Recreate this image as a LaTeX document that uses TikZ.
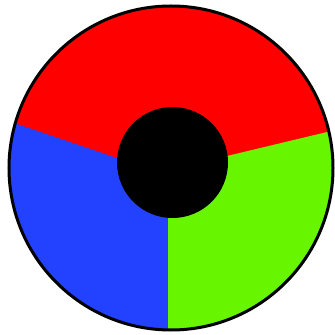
\documentclass[tikz,border=0pt]{standalone}
\usetikzlibrary{calc}
\definecolor{ruedaRojo}{HTML}{FE0000}
\definecolor{ruedaAzul}{HTML}{2242FF}
\definecolor{ruedaVerde}{HTML}{68F600}
\begin{document}
\begin{tikzpicture}[x=0.03cm, y=0.03cm,
      sector/.style={fill=#1},
      borde/.style={draw=black, line width=0.09cm}]
    \useasboundingbox (0,0) rectangle (334,335);
    \coordinate (O) at (171,167);
    \coordinate (c) at (172.5,172.5);
    \coordinate (rb) at (117,177);
    \coordinate (rv) at (227,179);
    \coordinate (av) at (168,117);
    % sectores
    \fill[sector=ruedaRojo] (O) circle[radius=162];
    \fill[sector=ruedaAzul] (rb) -- ($(O)+(164:162)$)
        arc[start angle=164, end angle=269, radius=162] -- (av) -- cycle;
    \fill[sector=ruedaVerde] (av) -- ($(O)+(269:162)$)
        arc[start angle=269, end angle=373, radius=162] -- (rv) -- cycle;
    \draw[borde] (O) circle[radius=162];
    \fill[black] (c) circle[radius=55.5];
  \end{tikzpicture}
\end{document}
